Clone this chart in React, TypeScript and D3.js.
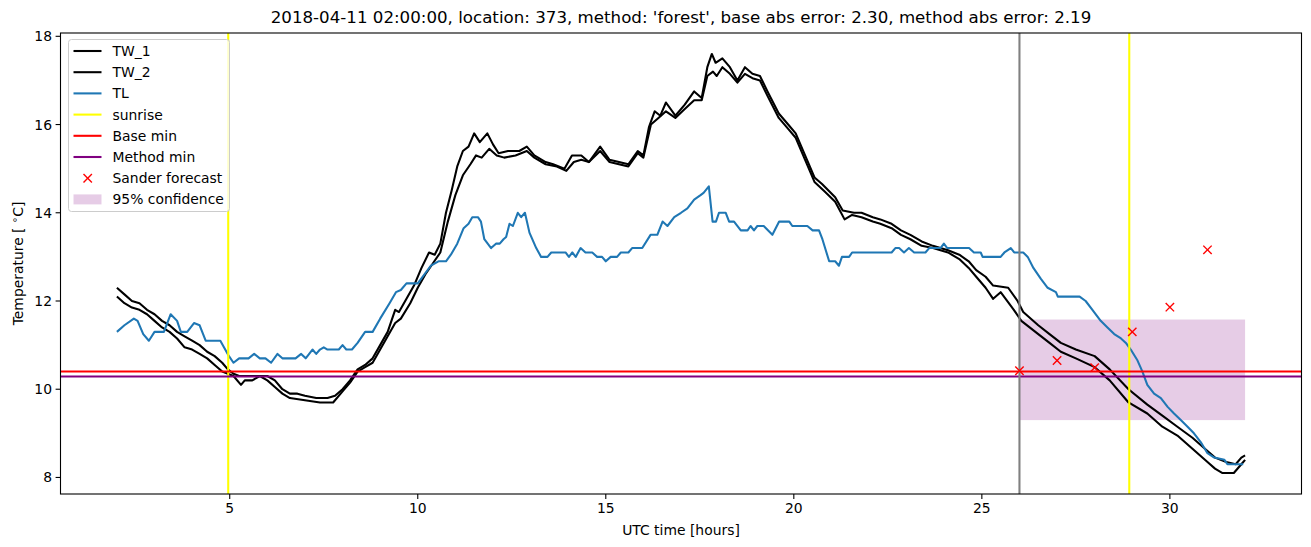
import React from "react";
import * as d3 from "d3";

const TITLE = "2018-04-11 02:00:00, location: 373, method: 'forest', base abs error: 2.30, method abs error: 2.19";

// [hour, °C]
const TW_1: [number, number][] = [
  [2.0,12.3],[2.2,12.15],[2.4,12.0],[2.6,11.95],[2.8,11.8],[3.0,11.7],[3.2,11.55],[3.4,11.45],[3.6,11.3],[3.8,11.2],
  [4.0,11.1],[4.2,11.0],[4.4,10.85],[4.6,10.75],[4.8,10.6],[4.95,10.45],[5.1,10.35],[5.25,10.3],[5.5,10.3],[5.8,10.3],
  [6.0,10.3],[6.2,10.2],[6.4,10.0],[6.6,9.9],[6.8,9.9],[7.0,9.85],[7.3,9.8],[7.6,9.8],[7.8,9.85],[8.0,10.0],
  [8.2,10.2],[8.4,10.45],[8.6,10.55],[8.8,10.7],[9.0,11.0],[9.2,11.3],[9.4,11.8],[9.5,11.75],[9.7,12.05],[9.9,12.35],
  [10.1,12.75],[10.3,13.1],[10.45,13.05],[10.6,13.3],[10.75,14.0],[10.9,14.5],[11.05,15.05],[11.2,15.4],[11.35,15.5],[11.5,15.8],
  [11.65,15.6],[11.85,15.8],[12.0,15.55],[12.15,15.35],[12.4,15.4],[12.7,15.4],[12.9,15.5],[13.1,15.3],[13.4,15.15],[13.6,15.1],
  [13.9,15.0],[14.1,15.3],[14.35,15.3],[14.55,15.15],[14.85,15.5],[15.1,15.2],[15.6,15.1],[15.85,15.4],[16.0,15.3],[16.15,15.95],
  [16.3,16.3],[16.45,16.2],[16.6,16.5],[16.85,16.2],[17.1,16.45],[17.35,16.75],[17.55,16.6],[17.7,17.3],[17.82,17.6],[17.92,17.4],
  [18.1,17.5],[18.3,17.3],[18.5,17.0],[18.7,17.3],[18.9,17.15],[19.1,17.1],[19.3,16.75],[19.6,16.25],[19.85,16.0],[20.05,15.8],
  [20.3,15.3],[20.55,14.8],[20.75,14.65],[21.1,14.35],[21.3,14.05],[21.6,14.0],[21.8,14.0],[22.1,13.9],[22.3,13.85],[22.6,13.75],
  [22.85,13.6],[23.1,13.5],[23.4,13.35],[23.7,13.25],[24.1,13.15],[24.4,13.05],[24.65,12.9],[24.85,12.7],[25.1,12.55],[25.3,12.35],
  [25.7,12.3],[25.95,12.0],[26.1,11.75],[26.5,11.45],[26.8,11.25],[27.1,11.05],[27.5,10.9],[28.0,10.75],[28.4,10.45],[28.9,10.0],
  [29.4,9.65],[29.8,9.4],[30.2,9.15],[30.6,8.9],[31.0,8.6],[31.2,8.45],[31.5,8.35],[31.75,8.3],[31.9,8.45],[32.0,8.5],
];

const TW_2: [number, number][] = [
  [2.0,12.1],[2.2,11.95],[2.4,11.85],[2.6,11.8],[2.8,11.7],[3.0,11.55],[3.2,11.4],[3.4,11.3],[3.6,11.15],[3.8,10.95],
  [4.0,10.9],[4.2,10.8],[4.4,10.7],[4.6,10.55],[4.8,10.4],[4.95,10.35],[5.1,10.3],[5.3,10.1],[5.4,10.2],[5.6,10.2],
  [5.8,10.3],[6.0,10.2],[6.2,10.05],[6.4,9.9],[6.6,9.8],[7.0,9.75],[7.4,9.7],[7.75,9.7],[8.0,9.95],[8.2,10.15],
  [8.4,10.4],[8.6,10.5],[8.8,10.6],[9.0,10.9],[9.2,11.2],[9.4,11.5],[9.55,11.6],[9.8,11.95],[10.0,12.3],[10.2,12.6],
  [10.4,12.85],[10.6,13.1],[10.8,13.8],[11.0,14.4],[11.2,14.85],[11.4,15.1],[11.55,15.3],[11.7,15.25],[11.9,15.45],[12.1,15.3],
  [12.3,15.25],[12.6,15.3],[12.9,15.4],[13.1,15.25],[13.4,15.1],[13.7,15.05],[13.95,14.95],[14.15,15.15],[14.35,15.2],[14.55,15.15],
  [14.85,15.4],[15.1,15.15],[15.6,15.05],[15.85,15.35],[16.0,15.25],[16.2,16.0],[16.4,16.15],[16.6,16.3],[16.85,16.15],[17.1,16.35],
  [17.35,16.55],[17.55,16.55],[17.7,17.1],[17.85,17.2],[17.95,17.1],[18.1,17.3],[18.3,17.15],[18.5,16.95],[18.7,17.15],[18.9,17.05],
  [19.1,17.0],[19.3,16.65],[19.6,16.15],[19.85,15.9],[20.05,15.7],[20.3,15.2],[20.55,14.7],[20.8,14.5],[21.1,14.25],[21.35,13.85],
  [21.55,13.95],[21.8,13.9],[22.1,13.8],[22.3,13.75],[22.6,13.65],[22.85,13.5],[23.1,13.4],[23.4,13.25],[23.7,13.2],[24.1,13.1],
  [24.4,12.95],[24.65,12.75],[24.85,12.55],[25.1,12.3],[25.3,12.05],[25.5,12.2],[25.85,11.8],[26.05,11.55],[26.5,11.25],[26.8,11.05],
  [27.1,10.85],[27.5,10.7],[28.0,10.5],[28.4,10.2],[28.9,9.7],[29.4,9.45],[29.8,9.15],[30.2,8.95],[30.6,8.65],[31.0,8.35],
  [31.2,8.2],[31.4,8.1],[31.7,8.1],[31.9,8.3],[32.0,8.4],
];

const TL: [number, number][] = [
  [2.0,11.3],[2.2,11.45],[2.45,11.6],[2.55,11.55],[2.7,11.25],[2.85,11.1],[3.0,11.3],[3.25,11.3],[3.43,11.7],[3.6,11.55],
  [3.7,11.3],[3.87,11.3],[4.05,11.5],[4.2,11.45],[4.36,11.1],[4.75,11.1],[4.98,10.75],[5.1,10.6],[5.25,10.7],[5.5,10.7],
  [5.65,10.8],[5.8,10.7],[5.95,10.7],[6.1,10.6],[6.27,10.8],[6.4,10.7],[6.75,10.7],[6.9,10.8],[7.02,10.7],[7.2,10.9],
  [7.3,10.8],[7.4,10.9],[7.5,10.95],[7.6,10.9],[7.9,10.9],[8.0,11.0],[8.1,10.9],[8.25,10.9],[8.4,11.05],[8.6,11.3],
  [8.8,11.3],[9.0,11.6],[9.25,11.95],[9.42,12.2],[9.55,12.25],[9.7,12.4],[10.0,12.4],[10.35,12.8],[10.55,12.9],[10.75,12.9],
  [10.88,13.05],[11.05,13.3],[11.22,13.65],[11.35,13.75],[11.45,13.9],[11.6,13.9],[11.68,13.8],[11.77,13.4],[11.95,13.2],[12.08,13.3],
  [12.18,13.3],[12.28,13.4],[12.35,13.45],[12.44,13.75],[12.53,13.7],[12.66,14.0],[12.75,13.9],[12.85,14.0],[12.97,13.55],[13.15,13.2],
  [13.28,13.0],[13.45,13.0],[13.55,13.1],[13.93,13.1],[14.02,13.0],[14.11,13.1],[14.2,13.0],[14.33,13.2],[14.46,13.1],[14.64,13.1],
  [14.77,13.0],[14.9,13.0],[15.0,12.9],[15.13,13.0],[15.3,13.0],[15.4,13.1],[15.6,13.1],[15.7,13.2],[15.97,13.2],[16.19,13.5],
  [16.37,13.5],[16.51,13.8],[16.64,13.7],[16.82,13.9],[17.0,14.0],[17.17,14.1],[17.35,14.3],[17.52,14.4],[17.6,14.45],[17.74,14.6],
  [17.84,13.8],[17.93,13.8],[18.01,14.0],[18.19,14.0],[18.28,13.8],[18.41,13.8],[18.59,13.6],[18.77,13.6],[18.85,13.7],[18.94,13.6],
  [19.03,13.7],[19.2,13.7],[19.43,13.5],[19.61,13.8],[19.88,13.8],[19.96,13.7],[20.36,13.7],[20.5,13.6],[20.67,13.6],[20.76,13.4],
  [20.94,12.9],[21.1,12.9],[21.2,12.8],[21.28,13.0],[21.47,13.0],[21.55,13.1],[22.6,13.1],[22.7,13.2],[22.8,13.2],[22.93,13.1],
  [23.06,13.2],[23.2,13.1],[23.5,13.1],[23.6,13.2],[23.9,13.2],[23.99,13.3],[24.08,13.2],[24.66,13.2],[24.79,13.1],[24.97,13.1],
  [25.02,13.0],[25.5,13.0],[25.6,13.1],[25.77,13.2],[25.86,13.1],[26.1,13.1],[26.22,13.0],[26.37,12.75],[26.57,12.5],[26.75,12.3],
  [26.97,12.2],[27.02,12.1],[27.6,12.1],[27.76,12.0],[27.94,11.8],[28.16,11.55],[28.34,11.4],[28.52,11.25],[28.7,11.15],[28.83,11.05],
  [28.96,10.9],[29.14,10.65],[29.27,10.4],[29.4,10.1],[29.58,9.9],[29.76,9.8],[29.94,9.6],[30.11,9.45],[30.29,9.3],[30.47,9.15],
  [30.64,9.0],[30.82,8.8],[31.0,8.55],[31.18,8.45],[31.45,8.4],[31.53,8.3],[31.95,8.3],
];

const SUNRISE = [4.96, 28.92];
const BASE_MIN = 10.4;
const METHOD_MIN = 10.29;
const FORECAST_START = 26.0;
const SANDER_HOURS = [26, 27, 28, 29, 30, 31];
const SANDER_VALUES = [10.42, 10.65, 10.49, 11.3, 11.86, 13.16];
const CONF_HOURS = [26, 32];
const CONF_RANGE = [9.3, 11.58];

const X_TICKS = [5, 10, 15, 20, 25, 30];
const Y_TICKS = [8, 10, 12, 14, 16, 18];
const LEGEND_LABELS = ["TW_1", "TW_2", "TL", "sunrise", "Base min", "Method min", "Sander forecast", "95% confidence"];

const W = 1311, H = 547;
const L = 60.5, R = 1301.5, T = 33, B = 494;
const FONT = "'DejaVu Sans', sans-serif";
const LW = 2.08;

export default function App() {
  const x = d3.scaleLinear().domain([0.5, 33.5]).range([L, R]);
  const y = d3.scaleLinear().domain([7.625, 18.075]).range([B, T]);
  const line = d3.line<[number, number]>().x(d => x(d[0])).y(d => y(d[1]));
  const purple = "#800080";
  const blue = "#1f77b4";

  const legendColors = ["#000", "#000", blue, "#ffff00", "#ff0000", purple];
  const lx = 68.5, ly = 39.5, rowH = 21.2;

  return (
    <svg width={W} height={H} style={{ position: "absolute", left: 0, top: 0, background: "#fff" }} fontFamily={FONT}>
      <rect x={0} y={0} width={W} height={H} fill="#fff" />
      <defs>
        <clipPath id="plot"><rect x={L} y={T} width={R - L} height={B - T} /></clipPath>
      </defs>
      <g clipPath="url(#plot)">
        <rect x={x(CONF_HOURS[0])} width={x(CONF_HOURS[1]) - x(CONF_HOURS[0])}
          y={y(CONF_RANGE[1])} height={y(CONF_RANGE[0]) - y(CONF_RANGE[1])} fill={purple} fillOpacity={0.2} />
        <path d={line(TW_1) || ""} fill="none" stroke="#000" strokeWidth={LW} strokeLinejoin="round" />
        <path d={line(TW_2) || ""} fill="none" stroke="#000" strokeWidth={LW} strokeLinejoin="round" />
        <path d={line(TL) || ""} fill="none" stroke={blue} strokeWidth={LW} strokeLinejoin="round" />
        {SUNRISE.map((s, i) => (
          <line key={i} x1={x(s)} x2={x(s)} y1={T} y2={B} stroke="#ffff00" strokeWidth={LW} />
        ))}
        <line x1={L} x2={R} y1={y(BASE_MIN)} y2={y(BASE_MIN)} stroke="#ff0000" strokeWidth={LW} />
        <line x1={L} x2={R} y1={y(METHOD_MIN)} y2={y(METHOD_MIN)} stroke={purple} strokeWidth={LW} />
        <line x1={x(FORECAST_START)} x2={x(FORECAST_START)} y1={T} y2={B} stroke="#808080" strokeWidth={LW} />
        {SANDER_HOURS.map((h, i) => {
          const cx = x(h), cy = y(SANDER_VALUES[i]), r = 4.2;
          return (
            <g key={i} stroke="#ff0000" strokeWidth={1.4}>
              <line x1={cx - r} y1={cy - r} x2={cx + r} y2={cy + r} />
              <line x1={cx - r} y1={cy + r} x2={cx + r} y2={cy - r} />
            </g>
          );
        })}
      </g>
      <rect x={L} y={T} width={R - L} height={B - T} fill="none" stroke="#000" strokeWidth={1.1} />
      {X_TICKS.map(t => (
        <g key={t}>
          <line x1={x(t)} x2={x(t)} y1={B} y2={B + 4.9} stroke="#000" strokeWidth={1.1} />
          <text x={x(t)} y={B + 19} fontSize={13.9} textAnchor="middle" fill="#000">{t}</text>
        </g>
      ))}
      {Y_TICKS.map(t => (
        <g key={t}>
          <line x1={L - 4.9} x2={L} y1={y(t)} y2={y(t)} stroke="#000" strokeWidth={1.1} />
          <text x={L - 8.5} y={y(t) + 5} fontSize={13.9} textAnchor="end" fill="#000">{t}</text>
        </g>
      ))}
      <text x={(L + R) / 2} y={535} fontSize={13.9} textAnchor="middle" fill="#000">UTC time [hours]</text>
      <text transform={`translate(23,${(T + B) / 2}) rotate(-90)`} fontSize={13.9} textAnchor="middle" fill="#000">
        Temperature [ <tspan fontSize={10} dy={-5}>∘</tspan><tspan dy={5}>C]</tspan>
      </text>
      <text x={(L + R) / 2} y={23} fontSize={16.67} textAnchor="middle" fill="#000">{TITLE}</text>

      <g>
        <rect x={lx} y={ly} width={161} height={172} rx={3} fill="#fff" fillOpacity={0.8} stroke="#cccccc" strokeWidth={1} />
        {LEGEND_LABELS.map((lab, i) => {
          const cy = ly + 11.5 + i * rowH;
          let handle: React.ReactNode = null;
          if (i < 6) handle = <line x1={lx + 5} x2={lx + 33} y1={cy} y2={cy} stroke={legendColors[i]} strokeWidth={LW} />;
          else if (i === 6) handle = (
            <g stroke="#ff0000" strokeWidth={1.4}>
              <line x1={lx + 15} y1={cy - 4.2} x2={lx + 23.4} y2={cy + 4.2} />
              <line x1={lx + 15} y1={cy + 4.2} x2={lx + 23.4} y2={cy - 4.2} />
            </g>
          );
          else handle = <rect x={lx + 5} y={cy - 5} width={28} height={10} fill={purple} fillOpacity={0.2} />;
          return (
            <g key={lab}>
              {handle}
              <text x={lx + 44} y={cy + 5} fontSize={13.9} fill="#000">{lab}</text>
            </g>
          );
        })}
      </g>
    </svg>
  );
}
